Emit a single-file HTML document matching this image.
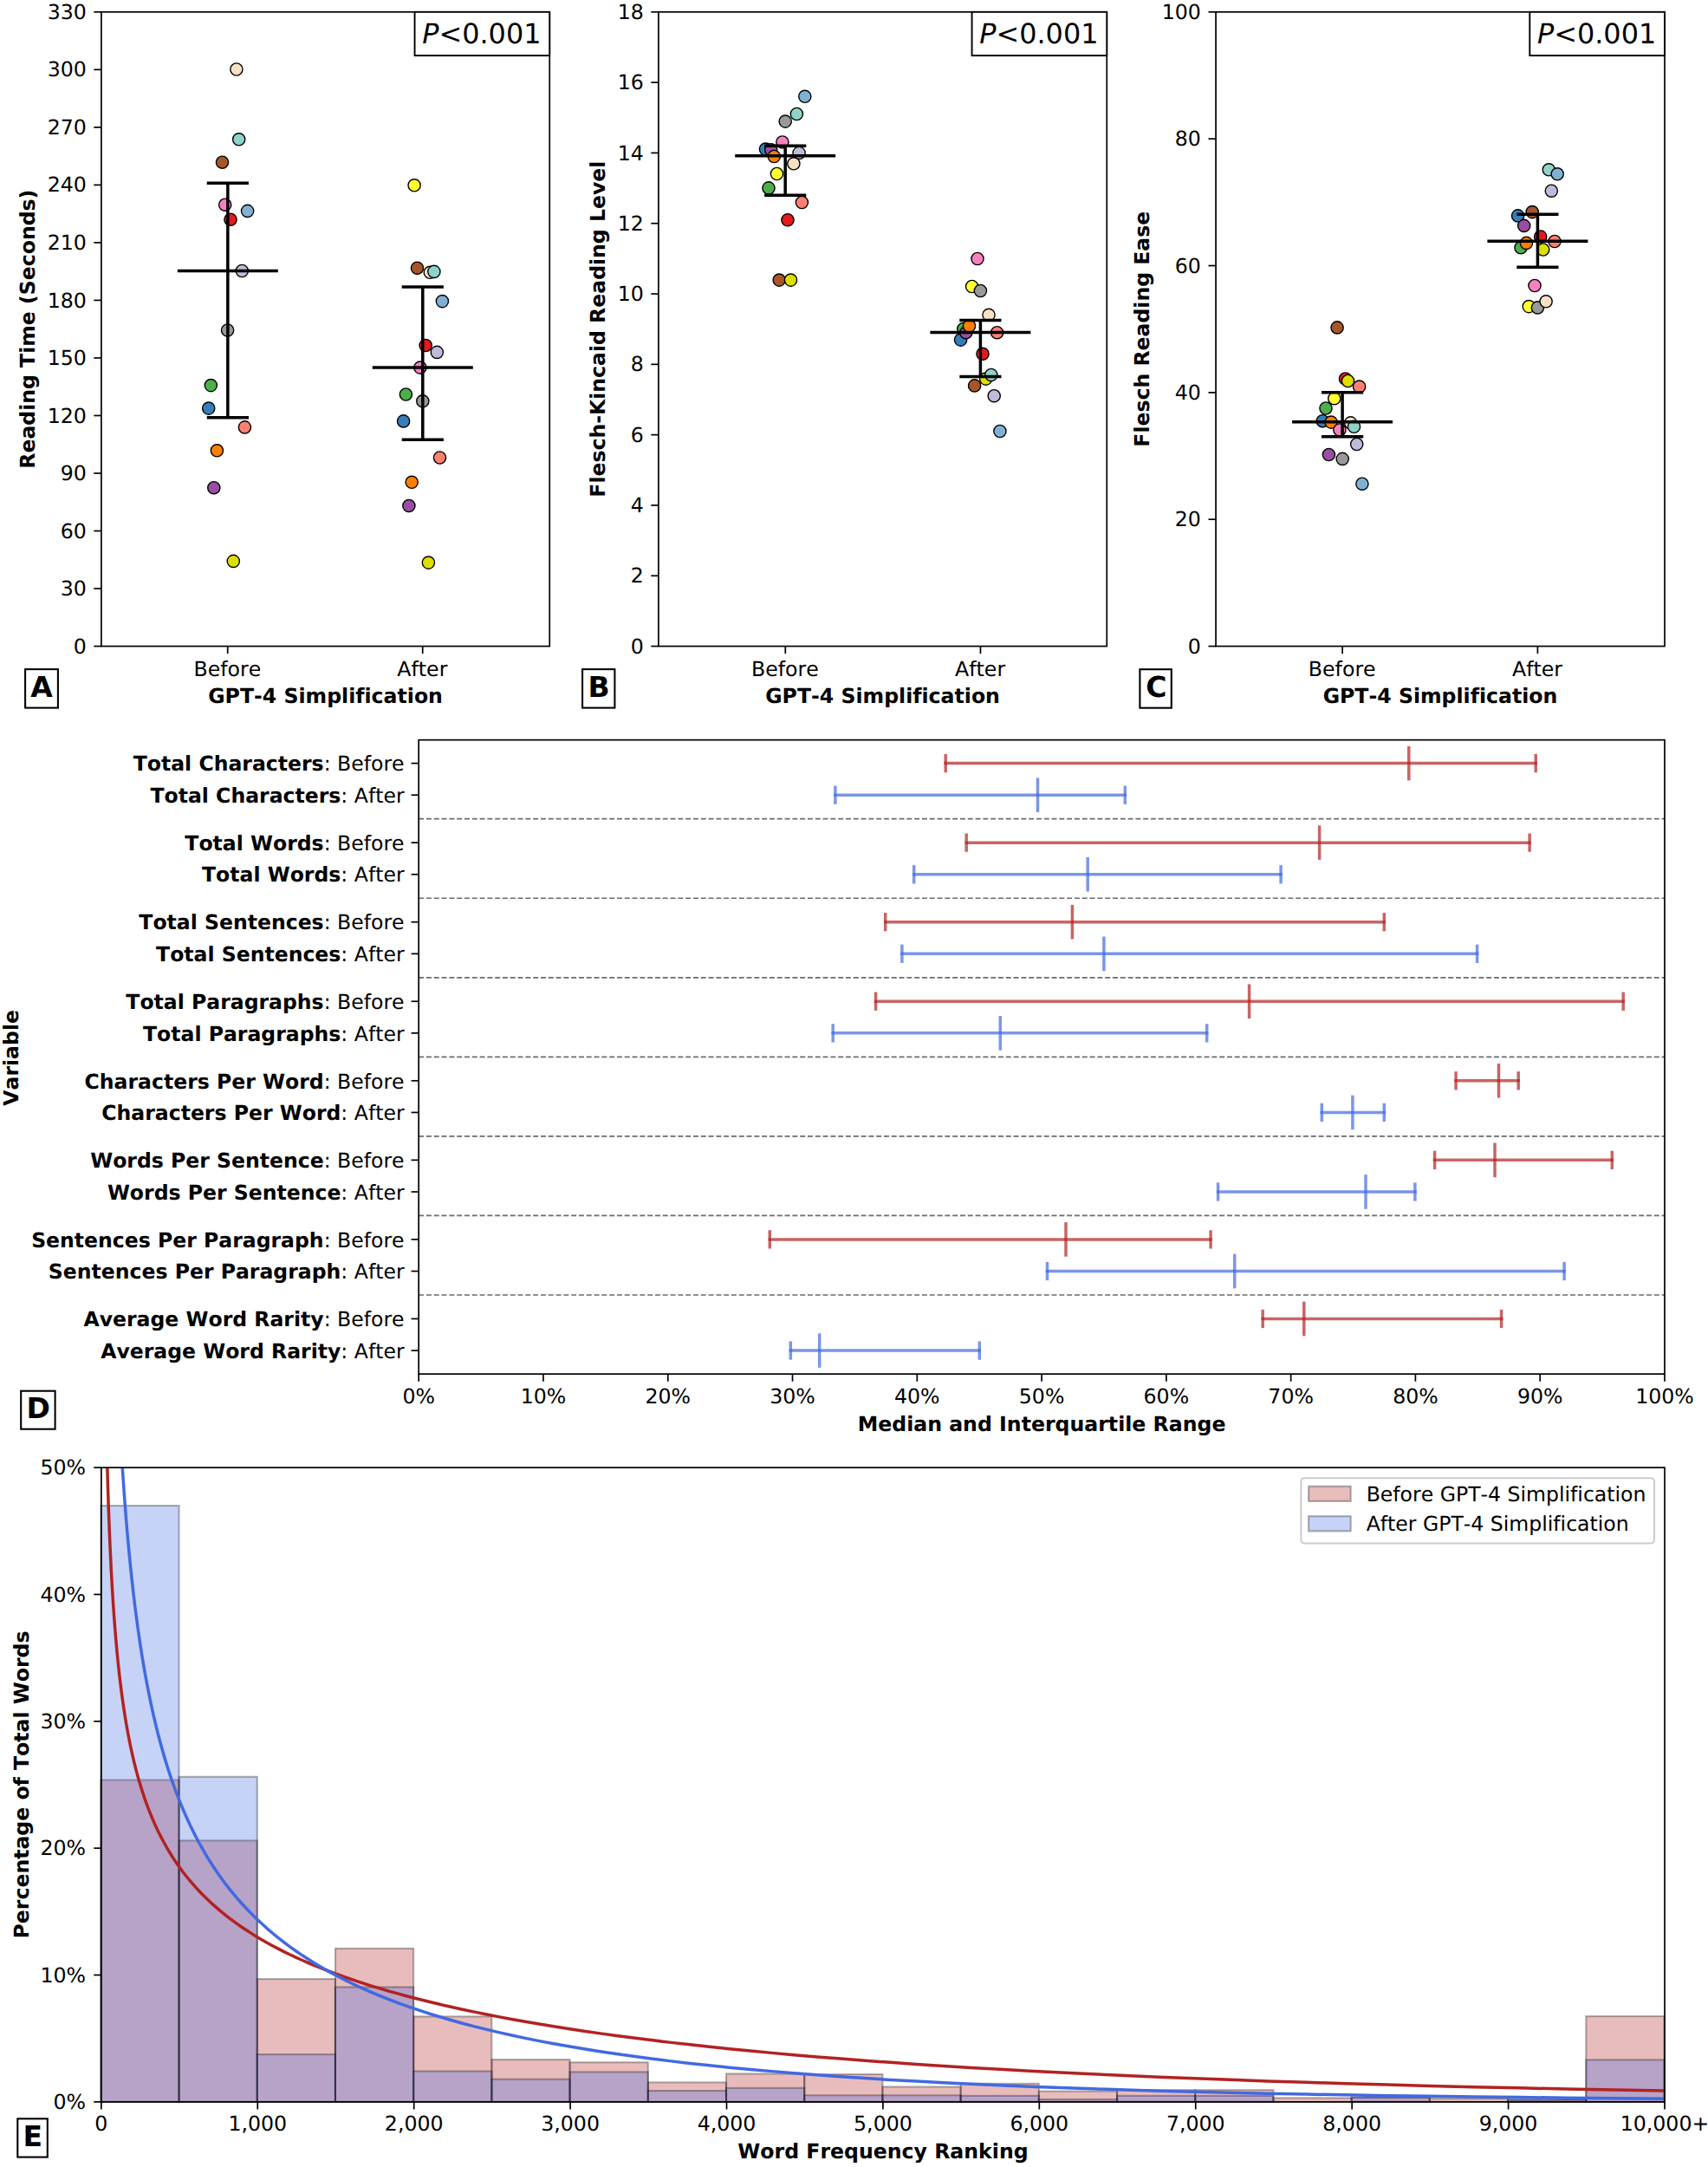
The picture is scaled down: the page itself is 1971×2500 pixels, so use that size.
<!DOCTYPE html><html><head><meta charset="utf-8"><title>Figure</title><style>html,body{margin:0;padding:0;background:#fff}svg{display:block}text{font-family:'DejaVu Sans', 'Liberation Sans', sans-serif;fill:#000;font-variant-ligatures:none;font-kerning:none;text-rendering:geometricPrecision}</style></head><body>
<svg width="1971" height="2500" viewBox="0 0 1971 2500">
<rect width="1971" height="2500" fill="#fff"/>
<g>
<circle cx="266" cy="253.2" r="7.1" fill="#e41a1c" stroke="#000" stroke-width="1.4"/>
<circle cx="491.2" cy="398.5" r="7.1" fill="#e41a1c" stroke="#000" stroke-width="1.4"/>
<circle cx="240.7" cy="471.1" r="7.1" fill="#377eb8" stroke="#000" stroke-width="1.4"/>
<circle cx="465.6" cy="485.9" r="7.1" fill="#377eb8" stroke="#000" stroke-width="1.4"/>
<circle cx="243.3" cy="444.6" r="7.1" fill="#4daf4a" stroke="#000" stroke-width="1.4"/>
<circle cx="468.4" cy="455" r="7.1" fill="#4daf4a" stroke="#000" stroke-width="1.4"/>
<circle cx="246.8" cy="562.7" r="7.1" fill="#984ea3" stroke="#000" stroke-width="1.4"/>
<circle cx="471.9" cy="583.5" r="7.1" fill="#984ea3" stroke="#000" stroke-width="1.4"/>
<circle cx="250.4" cy="519.8" r="7.1" fill="#ff7f00" stroke="#000" stroke-width="1.4"/>
<circle cx="475.2" cy="556.3" r="7.1" fill="#ff7f00" stroke="#000" stroke-width="1.4"/>
<circle cx="478.1" cy="213.8" r="7.1" fill="#ffff33" stroke="#000" stroke-width="1.4"/>
<circle cx="256.5" cy="187.2" r="7.1" fill="#a65628" stroke="#000" stroke-width="1.4"/>
<circle cx="481.5" cy="309.2" r="7.1" fill="#a65628" stroke="#000" stroke-width="1.4"/>
<circle cx="259.7" cy="236.2" r="7.1" fill="#f781bf" stroke="#000" stroke-width="1.4"/>
<circle cx="484.9" cy="424.1" r="7.1" fill="#f781bf" stroke="#000" stroke-width="1.4"/>
<circle cx="262.6" cy="381" r="7.1" fill="#999999" stroke="#000" stroke-width="1.4"/>
<circle cx="487.8" cy="462.8" r="7.1" fill="#999999" stroke="#000" stroke-width="1.4"/>
<circle cx="269.3" cy="647.4" r="7.1" fill="#dede00" stroke="#000" stroke-width="1.4"/>
<circle cx="494.4" cy="649.1" r="7.1" fill="#dede00" stroke="#000" stroke-width="1.4"/>
<circle cx="279.3" cy="312.5" r="7.1" fill="#bebada" stroke="#000" stroke-width="1.4"/>
<circle cx="504.3" cy="406.4" r="7.1" fill="#bebada" stroke="#000" stroke-width="1.4"/>
<circle cx="282.4" cy="492.9" r="7.1" fill="#fb8072" stroke="#000" stroke-width="1.4"/>
<circle cx="507.5" cy="528" r="7.1" fill="#fb8072" stroke="#000" stroke-width="1.4"/>
<circle cx="272.9" cy="80" r="7.1" fill="#f6e1c3" stroke="#000" stroke-width="1.4"/>
<circle cx="496.3" cy="314.3" r="7.1" fill="#f6e1c3" stroke="#000" stroke-width="1.4"/>
<circle cx="275.7" cy="160.8" r="7.1" fill="#8dd3c7" stroke="#000" stroke-width="1.4"/>
<circle cx="500.9" cy="313.4" r="7.1" fill="#8dd3c7" stroke="#000" stroke-width="1.4"/>
<circle cx="285.6" cy="243.4" r="7.1" fill="#80b1d3" stroke="#000" stroke-width="1.4"/>
<circle cx="510.4" cy="347.6" r="7.1" fill="#80b1d3" stroke="#000" stroke-width="1.4"/>
<line x1="262.85" y1="211.3" x2="262.85" y2="481.8" stroke="#000" stroke-width="3.5" />
<line x1="238.75" y1="211.3" x2="286.95" y2="211.3" stroke="#000" stroke-width="3.5" />
<line x1="238.75" y1="481.8" x2="286.95" y2="481.8" stroke="#000" stroke-width="3.5" />
<line x1="204.85" y1="312.5" x2="320.85" y2="312.5" stroke="#000" stroke-width="3.5" />
<line x1="487.8" y1="330.9" x2="487.8" y2="507.3" stroke="#000" stroke-width="3.5" />
<line x1="463.7" y1="330.9" x2="511.9" y2="330.9" stroke="#000" stroke-width="3.5" />
<line x1="463.7" y1="507.3" x2="511.9" y2="507.3" stroke="#000" stroke-width="3.5" />
<line x1="429.8" y1="424.1" x2="545.8" y2="424.1" stroke="#000" stroke-width="3.5" />
<rect x="116.9" y="13.82" width="517.35" height="731.73" fill="none" stroke="#000" stroke-width="1.7"/>
<line x1="108.3" y1="745.55" x2="116.9" y2="745.55" stroke="#000" stroke-width="1.7" />
<text x="99.75" y="753.65" font-size="23.65" text-anchor="end" font-weight="normal" >0</text>
<line x1="108.3" y1="679.03" x2="116.9" y2="679.03" stroke="#000" stroke-width="1.7" />
<text x="99.75" y="687.13" font-size="23.65" text-anchor="end" font-weight="normal" >30</text>
<line x1="108.3" y1="612.51" x2="116.9" y2="612.51" stroke="#000" stroke-width="1.7" />
<text x="99.75" y="620.61" font-size="23.65" text-anchor="end" font-weight="normal" >60</text>
<line x1="108.3" y1="545.99" x2="116.9" y2="545.99" stroke="#000" stroke-width="1.7" />
<text x="99.75" y="554.09" font-size="23.65" text-anchor="end" font-weight="normal" >90</text>
<line x1="108.3" y1="479.47" x2="116.9" y2="479.47" stroke="#000" stroke-width="1.7" />
<text x="99.75" y="487.57" font-size="23.65" text-anchor="end" font-weight="normal" >120</text>
<line x1="108.3" y1="412.95" x2="116.9" y2="412.95" stroke="#000" stroke-width="1.7" />
<text x="99.75" y="421.05" font-size="23.65" text-anchor="end" font-weight="normal" >150</text>
<line x1="108.3" y1="346.42" x2="116.9" y2="346.42" stroke="#000" stroke-width="1.7" />
<text x="99.75" y="354.52" font-size="23.65" text-anchor="end" font-weight="normal" >180</text>
<line x1="108.3" y1="279.9" x2="116.9" y2="279.9" stroke="#000" stroke-width="1.7" />
<text x="99.75" y="288" font-size="23.65" text-anchor="end" font-weight="normal" >210</text>
<line x1="108.3" y1="213.38" x2="116.9" y2="213.38" stroke="#000" stroke-width="1.7" />
<text x="99.75" y="221.48" font-size="23.65" text-anchor="end" font-weight="normal" >240</text>
<line x1="108.3" y1="146.86" x2="116.9" y2="146.86" stroke="#000" stroke-width="1.7" />
<text x="99.75" y="154.96" font-size="23.65" text-anchor="end" font-weight="normal" >270</text>
<line x1="108.3" y1="80.34" x2="116.9" y2="80.34" stroke="#000" stroke-width="1.7" />
<text x="99.75" y="88.44" font-size="23.65" text-anchor="end" font-weight="normal" >300</text>
<line x1="108.3" y1="13.82" x2="116.9" y2="13.82" stroke="#000" stroke-width="1.7" />
<text x="99.75" y="21.92" font-size="23.65" text-anchor="end" font-weight="normal" >330</text>
<line x1="262.72" y1="745.55" x2="262.72" y2="754.15" stroke="#000" stroke-width="1.7" />
<text x="262.37" y="779.85" font-size="23.65" text-anchor="middle" font-weight="normal" >Before</text>
<line x1="487.72" y1="745.55" x2="487.72" y2="754.15" stroke="#000" stroke-width="1.7" />
<text x="487.37" y="779.85" font-size="23.65" text-anchor="middle" font-weight="normal" >After</text>
<text x="375.57" y="810.8" font-size="23.62" text-anchor="middle" font-weight="bold" >GPT-4 Simplification</text>
<text transform="translate(39.9,379.69) rotate(-90)" font-size="23.57" text-anchor="middle" font-weight="bold">Reading Time (Seconds)</text>
<rect x="478.55" y="13.82" width="155.7" height="50.3" fill="#fff" stroke="#000" stroke-width="1.9"/>
<text x="555.85" y="49.65" font-size="31.9" text-anchor="middle" font-weight="normal" ><tspan font-style="italic">P</tspan>&lt;0.001</text>
<rect x="29.1" y="772.1" width="37.8" height="44.5" fill="#fff" stroke="#000" stroke-width="2.08"/>
<text x="35.2" y="803.9" font-size="33" text-anchor="start" font-weight="bold" >A</text>
</g>
<g>
<circle cx="909" cy="253.7" r="7.1" fill="#e41a1c" stroke="#000" stroke-width="1.4"/>
<circle cx="1134" cy="408.3" r="7.1" fill="#e41a1c" stroke="#000" stroke-width="1.4"/>
<circle cx="883.5" cy="172.1" r="7.1" fill="#377eb8" stroke="#000" stroke-width="1.4"/>
<circle cx="1108.6" cy="392.1" r="7.1" fill="#377eb8" stroke="#000" stroke-width="1.4"/>
<circle cx="887" cy="216.9" r="7.1" fill="#4daf4a" stroke="#000" stroke-width="1.4"/>
<circle cx="1111.8" cy="379.5" r="7.1" fill="#4daf4a" stroke="#000" stroke-width="1.4"/>
<circle cx="889.7" cy="172.7" r="7.1" fill="#984ea3" stroke="#000" stroke-width="1.4"/>
<circle cx="1114.8" cy="383.7" r="7.1" fill="#984ea3" stroke="#000" stroke-width="1.4"/>
<circle cx="893.3" cy="180.5" r="7.1" fill="#ff7f00" stroke="#000" stroke-width="1.4"/>
<circle cx="1118.5" cy="376.1" r="7.1" fill="#ff7f00" stroke="#000" stroke-width="1.4"/>
<circle cx="896.5" cy="200.5" r="7.1" fill="#ffff33" stroke="#000" stroke-width="1.4"/>
<circle cx="1121.6" cy="330.5" r="7.1" fill="#ffff33" stroke="#000" stroke-width="1.4"/>
<circle cx="899.2" cy="323.1" r="7.1" fill="#a65628" stroke="#000" stroke-width="1.4"/>
<circle cx="1124.6" cy="444.9" r="7.1" fill="#a65628" stroke="#000" stroke-width="1.4"/>
<circle cx="902.9" cy="164" r="7.1" fill="#f781bf" stroke="#000" stroke-width="1.4"/>
<circle cx="1128" cy="298.5" r="7.1" fill="#f781bf" stroke="#000" stroke-width="1.4"/>
<circle cx="906.2" cy="140.1" r="7.1" fill="#999999" stroke="#000" stroke-width="1.4"/>
<circle cx="1131.4" cy="335.5" r="7.1" fill="#999999" stroke="#000" stroke-width="1.4"/>
<circle cx="912.5" cy="323.1" r="7.1" fill="#dede00" stroke="#000" stroke-width="1.4"/>
<circle cx="1137.6" cy="437.1" r="7.1" fill="#dede00" stroke="#000" stroke-width="1.4"/>
<circle cx="922.1" cy="176.4" r="7.1" fill="#bebada" stroke="#000" stroke-width="1.4"/>
<circle cx="1147.2" cy="456.7" r="7.1" fill="#bebada" stroke="#000" stroke-width="1.4"/>
<circle cx="925.4" cy="233.5" r="7.1" fill="#fb8072" stroke="#000" stroke-width="1.4"/>
<circle cx="1150.6" cy="383.7" r="7.1" fill="#fb8072" stroke="#000" stroke-width="1.4"/>
<circle cx="915.9" cy="188.8" r="7.1" fill="#f6e1c3" stroke="#000" stroke-width="1.4"/>
<circle cx="1141" cy="363.3" r="7.1" fill="#f6e1c3" stroke="#000" stroke-width="1.4"/>
<circle cx="919.4" cy="131.5" r="7.1" fill="#8dd3c7" stroke="#000" stroke-width="1.4"/>
<circle cx="1143.8" cy="432.5" r="7.1" fill="#8dd3c7" stroke="#000" stroke-width="1.4"/>
<circle cx="928.8" cy="111.3" r="7.1" fill="#80b1d3" stroke="#000" stroke-width="1.4"/>
<circle cx="1153.9" cy="497.5" r="7.1" fill="#80b1d3" stroke="#000" stroke-width="1.4"/>
<line x1="906.2" y1="168.2" x2="906.2" y2="225.3" stroke="#000" stroke-width="3.5" />
<line x1="882.1" y1="168.2" x2="930.3" y2="168.2" stroke="#000" stroke-width="3.5" />
<line x1="882.1" y1="225.3" x2="930.3" y2="225.3" stroke="#000" stroke-width="3.5" />
<line x1="848.2" y1="179.8" x2="964.2" y2="179.8" stroke="#000" stroke-width="3.5" />
<line x1="1131.4" y1="369.5" x2="1131.4" y2="434.5" stroke="#000" stroke-width="3.5" />
<line x1="1107.3" y1="369.5" x2="1155.5" y2="369.5" stroke="#000" stroke-width="3.5" />
<line x1="1107.3" y1="434.5" x2="1155.5" y2="434.5" stroke="#000" stroke-width="3.5" />
<line x1="1073.4" y1="383.5" x2="1189.4" y2="383.5" stroke="#000" stroke-width="3.5" />
<rect x="759.9" y="13.82" width="517.37" height="731.73" fill="none" stroke="#000" stroke-width="1.7"/>
<line x1="751.3" y1="745.55" x2="759.9" y2="745.55" stroke="#000" stroke-width="1.7" />
<text x="742.75" y="753.65" font-size="23.65" text-anchor="end" font-weight="normal" >0</text>
<line x1="751.3" y1="664.25" x2="759.9" y2="664.25" stroke="#000" stroke-width="1.7" />
<text x="742.75" y="672.35" font-size="23.65" text-anchor="end" font-weight="normal" >2</text>
<line x1="751.3" y1="582.94" x2="759.9" y2="582.94" stroke="#000" stroke-width="1.7" />
<text x="742.75" y="591.04" font-size="23.65" text-anchor="end" font-weight="normal" >4</text>
<line x1="751.3" y1="501.64" x2="759.9" y2="501.64" stroke="#000" stroke-width="1.7" />
<text x="742.75" y="509.74" font-size="23.65" text-anchor="end" font-weight="normal" >6</text>
<line x1="751.3" y1="420.34" x2="759.9" y2="420.34" stroke="#000" stroke-width="1.7" />
<text x="742.75" y="428.44" font-size="23.65" text-anchor="end" font-weight="normal" >8</text>
<line x1="751.3" y1="339.03" x2="759.9" y2="339.03" stroke="#000" stroke-width="1.7" />
<text x="742.75" y="347.13" font-size="23.65" text-anchor="end" font-weight="normal" >10</text>
<line x1="751.3" y1="257.73" x2="759.9" y2="257.73" stroke="#000" stroke-width="1.7" />
<text x="742.75" y="265.83" font-size="23.65" text-anchor="end" font-weight="normal" >12</text>
<line x1="751.3" y1="176.43" x2="759.9" y2="176.43" stroke="#000" stroke-width="1.7" />
<text x="742.75" y="184.53" font-size="23.65" text-anchor="end" font-weight="normal" >14</text>
<line x1="751.3" y1="95.12" x2="759.9" y2="95.12" stroke="#000" stroke-width="1.7" />
<text x="742.75" y="103.22" font-size="23.65" text-anchor="end" font-weight="normal" >16</text>
<line x1="751.3" y1="13.82" x2="759.9" y2="13.82" stroke="#000" stroke-width="1.7" />
<text x="742.75" y="21.92" font-size="23.65" text-anchor="end" font-weight="normal" >18</text>
<line x1="906.3" y1="745.55" x2="906.3" y2="754.15" stroke="#000" stroke-width="1.7" />
<text x="905.95" y="779.85" font-size="23.65" text-anchor="middle" font-weight="normal" >Before</text>
<line x1="1131.47" y1="745.55" x2="1131.47" y2="754.15" stroke="#000" stroke-width="1.7" />
<text x="1131.12" y="779.85" font-size="23.65" text-anchor="middle" font-weight="normal" >After</text>
<text x="1018.59" y="810.8" font-size="23.62" text-anchor="middle" font-weight="bold" >GPT-4 Simplification</text>
<text transform="translate(697.9,379.69) rotate(-90)" font-size="23.57" text-anchor="middle" font-weight="bold">Flesch-Kincaid Reading Level</text>
<rect x="1121.57" y="13.82" width="155.7" height="50.3" fill="#fff" stroke="#000" stroke-width="1.9"/>
<text x="1198.87" y="49.65" font-size="31.9" text-anchor="middle" font-weight="normal" ><tspan font-style="italic">P</tspan>&lt;0.001</text>
<rect x="672.1" y="772.1" width="37.3" height="44.5" fill="#fff" stroke="#000" stroke-width="2.08"/>
<text x="678.6" y="803.9" font-size="33" text-anchor="start" font-weight="bold" >B</text>
</g>
<g>
<circle cx="1552.5" cy="437" r="7.1" fill="#e41a1c" stroke="#000" stroke-width="1.4"/>
<circle cx="1777.7" cy="273" r="7.1" fill="#e41a1c" stroke="#000" stroke-width="1.4"/>
<circle cx="1526.3" cy="485.7" r="7.1" fill="#377eb8" stroke="#000" stroke-width="1.4"/>
<circle cx="1751.6" cy="248.9" r="7.1" fill="#377eb8" stroke="#000" stroke-width="1.4"/>
<circle cx="1530" cy="471" r="7.1" fill="#4daf4a" stroke="#000" stroke-width="1.4"/>
<circle cx="1755" cy="285.7" r="7.1" fill="#4daf4a" stroke="#000" stroke-width="1.4"/>
<circle cx="1533.4" cy="524.5" r="7.1" fill="#984ea3" stroke="#000" stroke-width="1.4"/>
<circle cx="1758.7" cy="260.4" r="7.1" fill="#984ea3" stroke="#000" stroke-width="1.4"/>
<circle cx="1536.1" cy="487.1" r="7.1" fill="#ff7f00" stroke="#000" stroke-width="1.4"/>
<circle cx="1761.4" cy="280.4" r="7.1" fill="#ff7f00" stroke="#000" stroke-width="1.4"/>
<circle cx="1539.8" cy="459.7" r="7.1" fill="#ffff33" stroke="#000" stroke-width="1.4"/>
<circle cx="1764.3" cy="353.6" r="7.1" fill="#ffff33" stroke="#000" stroke-width="1.4"/>
<circle cx="1543.1" cy="377.9" r="7.1" fill="#a65628" stroke="#000" stroke-width="1.4"/>
<circle cx="1768.2" cy="244.6" r="7.1" fill="#a65628" stroke="#000" stroke-width="1.4"/>
<circle cx="1545.9" cy="496" r="7.1" fill="#f781bf" stroke="#000" stroke-width="1.4"/>
<circle cx="1771" cy="329.5" r="7.1" fill="#f781bf" stroke="#000" stroke-width="1.4"/>
<circle cx="1549.2" cy="529.4" r="7.1" fill="#999999" stroke="#000" stroke-width="1.4"/>
<circle cx="1774.4" cy="354.9" r="7.1" fill="#999999" stroke="#000" stroke-width="1.4"/>
<circle cx="1555.5" cy="439.5" r="7.1" fill="#dede00" stroke="#000" stroke-width="1.4"/>
<circle cx="1780.7" cy="288" r="7.1" fill="#dede00" stroke="#000" stroke-width="1.4"/>
<circle cx="1565.7" cy="512.5" r="7.1" fill="#bebada" stroke="#000" stroke-width="1.4"/>
<circle cx="1790.3" cy="220.2" r="7.1" fill="#bebada" stroke="#000" stroke-width="1.4"/>
<circle cx="1568.6" cy="446.1" r="7.1" fill="#fb8072" stroke="#000" stroke-width="1.4"/>
<circle cx="1794" cy="278.5" r="7.1" fill="#fb8072" stroke="#000" stroke-width="1.4"/>
<circle cx="1558.6" cy="487.9" r="7.1" fill="#f6e1c3" stroke="#000" stroke-width="1.4"/>
<circle cx="1784.1" cy="347.8" r="7.1" fill="#f6e1c3" stroke="#000" stroke-width="1.4"/>
<circle cx="1562.5" cy="492.3" r="7.1" fill="#8dd3c7" stroke="#000" stroke-width="1.4"/>
<circle cx="1787.3" cy="195.8" r="7.1" fill="#8dd3c7" stroke="#000" stroke-width="1.4"/>
<circle cx="1571.9" cy="558.2" r="7.1" fill="#80b1d3" stroke="#000" stroke-width="1.4"/>
<circle cx="1797.2" cy="200.8" r="7.1" fill="#80b1d3" stroke="#000" stroke-width="1.4"/>
<line x1="1549.1" y1="452.8" x2="1549.1" y2="503.7" stroke="#000" stroke-width="3.5" />
<line x1="1525" y1="452.8" x2="1573.2" y2="452.8" stroke="#000" stroke-width="3.5" />
<line x1="1525" y1="503.7" x2="1573.2" y2="503.7" stroke="#000" stroke-width="3.5" />
<line x1="1491.1" y1="486.8" x2="1607.1" y2="486.8" stroke="#000" stroke-width="3.5" />
<line x1="1774.4" y1="247.2" x2="1774.4" y2="308.2" stroke="#000" stroke-width="3.5" />
<line x1="1750.3" y1="247.2" x2="1798.5" y2="247.2" stroke="#000" stroke-width="3.5" />
<line x1="1750.3" y1="308.2" x2="1798.5" y2="308.2" stroke="#000" stroke-width="3.5" />
<line x1="1716.4" y1="278.3" x2="1832.4" y2="278.3" stroke="#000" stroke-width="3.5" />
<rect x="1403.06" y="13.82" width="517.94" height="731.73" fill="none" stroke="#000" stroke-width="1.7"/>
<line x1="1394.46" y1="745.55" x2="1403.06" y2="745.55" stroke="#000" stroke-width="1.7" />
<text x="1385.91" y="753.65" font-size="23.65" text-anchor="end" font-weight="normal" >0</text>
<line x1="1394.46" y1="599.2" x2="1403.06" y2="599.2" stroke="#000" stroke-width="1.7" />
<text x="1385.91" y="607.3" font-size="23.65" text-anchor="end" font-weight="normal" >20</text>
<line x1="1394.46" y1="452.86" x2="1403.06" y2="452.86" stroke="#000" stroke-width="1.7" />
<text x="1385.91" y="460.96" font-size="23.65" text-anchor="end" font-weight="normal" >40</text>
<line x1="1394.46" y1="306.51" x2="1403.06" y2="306.51" stroke="#000" stroke-width="1.7" />
<text x="1385.91" y="314.61" font-size="23.65" text-anchor="end" font-weight="normal" >60</text>
<line x1="1394.46" y1="160.17" x2="1403.06" y2="160.17" stroke="#000" stroke-width="1.7" />
<text x="1385.91" y="168.27" font-size="23.65" text-anchor="end" font-weight="normal" >80</text>
<line x1="1394.46" y1="13.82" x2="1403.06" y2="13.82" stroke="#000" stroke-width="1.7" />
<text x="1385.91" y="21.92" font-size="23.65" text-anchor="end" font-weight="normal" >100</text>
<line x1="1549.1" y1="745.55" x2="1549.1" y2="754.15" stroke="#000" stroke-width="1.7" />
<text x="1548.75" y="779.85" font-size="23.65" text-anchor="middle" font-weight="normal" >Before</text>
<line x1="1774.4" y1="745.55" x2="1774.4" y2="754.15" stroke="#000" stroke-width="1.7" />
<text x="1774.05" y="779.85" font-size="23.65" text-anchor="middle" font-weight="normal" >After</text>
<text x="1662.03" y="810.8" font-size="23.62" text-anchor="middle" font-weight="bold" >GPT-4 Simplification</text>
<text transform="translate(1326.2,379.69) rotate(-90)" font-size="23.57" text-anchor="middle" font-weight="bold">Flesch Reading Ease</text>
<rect x="1765.3" y="13.82" width="155.7" height="50.3" fill="#fff" stroke="#000" stroke-width="1.9"/>
<text x="1842.6" y="49.65" font-size="31.9" text-anchor="middle" font-weight="normal" ><tspan font-style="italic">P</tspan>&lt;0.001</text>
<rect x="1315.4" y="772.2" width="36.4" height="44.5" fill="#fff" stroke="#000" stroke-width="2.08"/>
<text x="1322.3" y="803.7" font-size="33" text-anchor="start" font-weight="bold" >C</text>
</g>
<g>
<g stroke="rgb(178,34,34)" stroke-width="3.5" stroke-opacity="0.7">
<line x1="1091.2" y1="880.6" x2="1772.2" y2="880.6" stroke-linecap="square"/>
<line x1="1091.2" y1="869.95" x2="1091.2" y2="891.25"/>
<line x1="1772.2" y1="869.95" x2="1772.2" y2="891.25"/>
<line x1="1625.8" y1="860.8" x2="1625.8" y2="900.4"/>
</g>
<line x1="474.59" y1="880.6" x2="483.19" y2="880.6" stroke="#000" stroke-width="1.7" />
<text x="466.59" y="889.3" font-size="23.55" text-anchor="end" font-weight="normal" ><tspan font-weight="bold">Total Characters</tspan>: Before</text>
<g stroke="rgb(65,105,225)" stroke-width="3.5" stroke-opacity="0.7">
<line x1="963.9" y1="917.22" x2="1298.3" y2="917.22" stroke-linecap="square"/>
<line x1="963.9" y1="906.57" x2="963.9" y2="927.87"/>
<line x1="1298.3" y1="906.57" x2="1298.3" y2="927.87"/>
<line x1="1197.5" y1="897.42" x2="1197.5" y2="937.02"/>
</g>
<line x1="474.59" y1="917.22" x2="483.19" y2="917.22" stroke="#000" stroke-width="1.7" />
<text x="466.59" y="925.92" font-size="23.55" text-anchor="end" font-weight="normal" ><tspan font-weight="bold">Total Characters</tspan>: After</text>
<line x1="483.19" y1="944.69" x2="1920.97" y2="944.69" stroke="#6b6b6b" stroke-width="1.67" stroke-dasharray="5.95 2.85"/>
<g stroke="rgb(178,34,34)" stroke-width="3.5" stroke-opacity="0.7">
<line x1="1115.2" y1="972.15" x2="1765.1" y2="972.15" stroke-linecap="square"/>
<line x1="1115.2" y1="961.5" x2="1115.2" y2="982.8"/>
<line x1="1765.1" y1="961.5" x2="1765.1" y2="982.8"/>
<line x1="1522.6" y1="952.35" x2="1522.6" y2="991.95"/>
</g>
<line x1="474.59" y1="972.15" x2="483.19" y2="972.15" stroke="#000" stroke-width="1.7" />
<text x="466.59" y="980.85" font-size="23.55" text-anchor="end" font-weight="normal" ><tspan font-weight="bold">Total Words</tspan>: Before</text>
<g stroke="rgb(65,105,225)" stroke-width="3.5" stroke-opacity="0.7">
<line x1="1054.7" y1="1008.77" x2="1478.1" y2="1008.77" stroke-linecap="square"/>
<line x1="1054.7" y1="998.12" x2="1054.7" y2="1019.42"/>
<line x1="1478.1" y1="998.12" x2="1478.1" y2="1019.42"/>
<line x1="1255.2" y1="988.97" x2="1255.2" y2="1028.57"/>
</g>
<line x1="474.59" y1="1008.77" x2="483.19" y2="1008.77" stroke="#000" stroke-width="1.7" />
<text x="466.59" y="1017.47" font-size="23.55" text-anchor="end" font-weight="normal" ><tspan font-weight="bold">Total Words</tspan>: After</text>
<line x1="483.19" y1="1036.24" x2="1920.97" y2="1036.24" stroke="#6b6b6b" stroke-width="1.67" stroke-dasharray="5.95 2.85"/>
<g stroke="rgb(178,34,34)" stroke-width="3.5" stroke-opacity="0.7">
<line x1="1021.7" y1="1063.7" x2="1597.3" y2="1063.7" stroke-linecap="square"/>
<line x1="1021.7" y1="1053.05" x2="1021.7" y2="1074.35"/>
<line x1="1597.3" y1="1053.05" x2="1597.3" y2="1074.35"/>
<line x1="1237.4" y1="1043.9" x2="1237.4" y2="1083.5"/>
</g>
<line x1="474.59" y1="1063.7" x2="483.19" y2="1063.7" stroke="#000" stroke-width="1.7" />
<text x="466.59" y="1072.4" font-size="23.55" text-anchor="end" font-weight="normal" ><tspan font-weight="bold">Total Sentences</tspan>: Before</text>
<g stroke="rgb(65,105,225)" stroke-width="3.5" stroke-opacity="0.7">
<line x1="1040.9" y1="1100.32" x2="1704.6" y2="1100.32" stroke-linecap="square"/>
<line x1="1040.9" y1="1089.67" x2="1040.9" y2="1110.97"/>
<line x1="1704.6" y1="1089.67" x2="1704.6" y2="1110.97"/>
<line x1="1273.9" y1="1080.52" x2="1273.9" y2="1120.12"/>
</g>
<line x1="474.59" y1="1100.32" x2="483.19" y2="1100.32" stroke="#000" stroke-width="1.7" />
<text x="466.59" y="1109.02" font-size="23.55" text-anchor="end" font-weight="normal" ><tspan font-weight="bold">Total Sentences</tspan>: After</text>
<line x1="483.19" y1="1127.79" x2="1920.97" y2="1127.79" stroke="#6b6b6b" stroke-width="1.67" stroke-dasharray="5.95 2.85"/>
<g stroke="rgb(178,34,34)" stroke-width="3.5" stroke-opacity="0.7">
<line x1="1010.6" y1="1155.25" x2="1873.2" y2="1155.25" stroke-linecap="square"/>
<line x1="1010.6" y1="1144.6" x2="1010.6" y2="1165.9"/>
<line x1="1873.2" y1="1144.6" x2="1873.2" y2="1165.9"/>
<line x1="1441.6" y1="1135.45" x2="1441.6" y2="1175.05"/>
</g>
<line x1="474.59" y1="1155.25" x2="483.19" y2="1155.25" stroke="#000" stroke-width="1.7" />
<text x="466.59" y="1163.95" font-size="23.55" text-anchor="end" font-weight="normal" ><tspan font-weight="bold">Total Paragraphs</tspan>: Before</text>
<g stroke="rgb(65,105,225)" stroke-width="3.5" stroke-opacity="0.7">
<line x1="961.2" y1="1191.87" x2="1392.7" y2="1191.87" stroke-linecap="square"/>
<line x1="961.2" y1="1181.22" x2="961.2" y2="1202.52"/>
<line x1="1392.7" y1="1181.22" x2="1392.7" y2="1202.52"/>
<line x1="1154.3" y1="1172.07" x2="1154.3" y2="1211.67"/>
</g>
<line x1="474.59" y1="1191.87" x2="483.19" y2="1191.87" stroke="#000" stroke-width="1.7" />
<text x="466.59" y="1200.57" font-size="23.55" text-anchor="end" font-weight="normal" ><tspan font-weight="bold">Total Paragraphs</tspan>: After</text>
<line x1="483.19" y1="1219.34" x2="1920.97" y2="1219.34" stroke="#6b6b6b" stroke-width="1.67" stroke-dasharray="5.95 2.85"/>
<g stroke="rgb(178,34,34)" stroke-width="3.5" stroke-opacity="0.7">
<line x1="1680.1" y1="1246.8" x2="1752.2" y2="1246.8" stroke-linecap="square"/>
<line x1="1680.1" y1="1236.15" x2="1680.1" y2="1257.45"/>
<line x1="1752.2" y1="1236.15" x2="1752.2" y2="1257.45"/>
<line x1="1729.5" y1="1227" x2="1729.5" y2="1266.6"/>
</g>
<line x1="474.59" y1="1246.8" x2="483.19" y2="1246.8" stroke="#000" stroke-width="1.7" />
<text x="466.59" y="1255.5" font-size="23.55" text-anchor="end" font-weight="normal" ><tspan font-weight="bold">Characters Per Word</tspan>: Before</text>
<g stroke="rgb(65,105,225)" stroke-width="3.5" stroke-opacity="0.7">
<line x1="1525.3" y1="1283.42" x2="1597.3" y2="1283.42" stroke-linecap="square"/>
<line x1="1525.3" y1="1272.77" x2="1525.3" y2="1294.07"/>
<line x1="1597.3" y1="1272.77" x2="1597.3" y2="1294.07"/>
<line x1="1560.9" y1="1263.62" x2="1560.9" y2="1303.22"/>
</g>
<line x1="474.59" y1="1283.42" x2="483.19" y2="1283.42" stroke="#000" stroke-width="1.7" />
<text x="466.59" y="1292.12" font-size="23.55" text-anchor="end" font-weight="normal" ><tspan font-weight="bold">Characters Per Word</tspan>: After</text>
<line x1="483.19" y1="1310.88" x2="1920.97" y2="1310.88" stroke="#6b6b6b" stroke-width="1.67" stroke-dasharray="5.95 2.85"/>
<g stroke="rgb(178,34,34)" stroke-width="3.5" stroke-opacity="0.7">
<line x1="1655.6" y1="1338.35" x2="1860.3" y2="1338.35" stroke-linecap="square"/>
<line x1="1655.6" y1="1327.7" x2="1655.6" y2="1349"/>
<line x1="1860.3" y1="1327.7" x2="1860.3" y2="1349"/>
<line x1="1725" y1="1318.55" x2="1725" y2="1358.15"/>
</g>
<line x1="474.59" y1="1338.35" x2="483.19" y2="1338.35" stroke="#000" stroke-width="1.7" />
<text x="466.59" y="1347.05" font-size="23.55" text-anchor="end" font-weight="normal" ><tspan font-weight="bold">Words Per Sentence</tspan>: Before</text>
<g stroke="rgb(65,105,225)" stroke-width="3.5" stroke-opacity="0.7">
<line x1="1405.6" y1="1374.97" x2="1632.9" y2="1374.97" stroke-linecap="square"/>
<line x1="1405.6" y1="1364.32" x2="1405.6" y2="1385.62"/>
<line x1="1632.9" y1="1364.32" x2="1632.9" y2="1385.62"/>
<line x1="1576" y1="1355.17" x2="1576" y2="1394.77"/>
</g>
<line x1="474.59" y1="1374.97" x2="483.19" y2="1374.97" stroke="#000" stroke-width="1.7" />
<text x="466.59" y="1383.67" font-size="23.55" text-anchor="end" font-weight="normal" ><tspan font-weight="bold">Words Per Sentence</tspan>: After</text>
<line x1="483.19" y1="1402.43" x2="1920.97" y2="1402.43" stroke="#6b6b6b" stroke-width="1.67" stroke-dasharray="5.95 2.85"/>
<g stroke="rgb(178,34,34)" stroke-width="3.5" stroke-opacity="0.7">
<line x1="888.3" y1="1429.9" x2="1397.1" y2="1429.9" stroke-linecap="square"/>
<line x1="888.3" y1="1419.25" x2="888.3" y2="1440.55"/>
<line x1="1397.1" y1="1419.25" x2="1397.1" y2="1440.55"/>
<line x1="1230" y1="1410.1" x2="1230" y2="1449.7"/>
</g>
<line x1="474.59" y1="1429.9" x2="483.19" y2="1429.9" stroke="#000" stroke-width="1.7" />
<text x="466.59" y="1438.6" font-size="23.55" text-anchor="end" font-weight="normal" ><tspan font-weight="bold">Sentences Per Paragraph</tspan>: Before</text>
<g stroke="rgb(65,105,225)" stroke-width="3.5" stroke-opacity="0.7">
<line x1="1208.5" y1="1466.52" x2="1805.1" y2="1466.52" stroke-linecap="square"/>
<line x1="1208.5" y1="1455.87" x2="1208.5" y2="1477.17"/>
<line x1="1805.1" y1="1455.87" x2="1805.1" y2="1477.17"/>
<line x1="1424.7" y1="1446.72" x2="1424.7" y2="1486.32"/>
</g>
<line x1="474.59" y1="1466.52" x2="483.19" y2="1466.52" stroke="#000" stroke-width="1.7" />
<text x="466.59" y="1475.22" font-size="23.55" text-anchor="end" font-weight="normal" ><tspan font-weight="bold">Sentences Per Paragraph</tspan>: After</text>
<line x1="483.19" y1="1493.99" x2="1920.97" y2="1493.99" stroke="#6b6b6b" stroke-width="1.67" stroke-dasharray="5.95 2.85"/>
<g stroke="rgb(178,34,34)" stroke-width="3.5" stroke-opacity="0.7">
<line x1="1457.2" y1="1521.45" x2="1732.6" y2="1521.45" stroke-linecap="square"/>
<line x1="1457.2" y1="1510.8" x2="1457.2" y2="1532.1"/>
<line x1="1732.6" y1="1510.8" x2="1732.6" y2="1532.1"/>
<line x1="1504.8" y1="1501.65" x2="1504.8" y2="1541.25"/>
</g>
<line x1="474.59" y1="1521.45" x2="483.19" y2="1521.45" stroke="#000" stroke-width="1.7" />
<text x="466.59" y="1530.15" font-size="23.55" text-anchor="end" font-weight="normal" ><tspan font-weight="bold">Average Word Rarity</tspan>: Before</text>
<g stroke="rgb(65,105,225)" stroke-width="3.5" stroke-opacity="0.7">
<line x1="912.3" y1="1558.07" x2="1130.3" y2="1558.07" stroke-linecap="square"/>
<line x1="912.3" y1="1547.42" x2="912.3" y2="1568.72"/>
<line x1="1130.3" y1="1547.42" x2="1130.3" y2="1568.72"/>
<line x1="945.7" y1="1538.27" x2="945.7" y2="1577.87"/>
</g>
<line x1="474.59" y1="1558.07" x2="483.19" y2="1558.07" stroke="#000" stroke-width="1.7" />
<text x="466.59" y="1566.77" font-size="23.55" text-anchor="end" font-weight="normal" ><tspan font-weight="bold">Average Word Rarity</tspan>: After</text>
<rect x="483.19" y="853.64" width="1437.78" height="731.51" fill="none" stroke="#000" stroke-width="1.7"/>
<line x1="483.19" y1="1585.15" x2="483.19" y2="1593.75" stroke="#000" stroke-width="1.7" />
<text x="483.19" y="1619.1" font-size="23.65" text-anchor="middle" font-weight="normal" >0%</text>
<line x1="626.97" y1="1585.15" x2="626.97" y2="1593.75" stroke="#000" stroke-width="1.7" />
<text x="626.97" y="1619.1" font-size="23.65" text-anchor="middle" font-weight="normal" >10%</text>
<line x1="770.75" y1="1585.15" x2="770.75" y2="1593.75" stroke="#000" stroke-width="1.7" />
<text x="770.75" y="1619.1" font-size="23.65" text-anchor="middle" font-weight="normal" >20%</text>
<line x1="914.52" y1="1585.15" x2="914.52" y2="1593.75" stroke="#000" stroke-width="1.7" />
<text x="914.52" y="1619.1" font-size="23.65" text-anchor="middle" font-weight="normal" >30%</text>
<line x1="1058.3" y1="1585.15" x2="1058.3" y2="1593.75" stroke="#000" stroke-width="1.7" />
<text x="1058.3" y="1619.1" font-size="23.65" text-anchor="middle" font-weight="normal" >40%</text>
<line x1="1202.08" y1="1585.15" x2="1202.08" y2="1593.75" stroke="#000" stroke-width="1.7" />
<text x="1202.08" y="1619.1" font-size="23.65" text-anchor="middle" font-weight="normal" >50%</text>
<line x1="1345.86" y1="1585.15" x2="1345.86" y2="1593.75" stroke="#000" stroke-width="1.7" />
<text x="1345.86" y="1619.1" font-size="23.65" text-anchor="middle" font-weight="normal" >60%</text>
<line x1="1489.64" y1="1585.15" x2="1489.64" y2="1593.75" stroke="#000" stroke-width="1.7" />
<text x="1489.64" y="1619.1" font-size="23.65" text-anchor="middle" font-weight="normal" >70%</text>
<line x1="1633.41" y1="1585.15" x2="1633.41" y2="1593.75" stroke="#000" stroke-width="1.7" />
<text x="1633.41" y="1619.1" font-size="23.65" text-anchor="middle" font-weight="normal" >80%</text>
<line x1="1777.19" y1="1585.15" x2="1777.19" y2="1593.75" stroke="#000" stroke-width="1.7" />
<text x="1777.19" y="1619.1" font-size="23.65" text-anchor="middle" font-weight="normal" >90%</text>
<line x1="1920.97" y1="1585.15" x2="1920.97" y2="1593.75" stroke="#000" stroke-width="1.7" />
<text x="1920.97" y="1619.1" font-size="23.65" text-anchor="middle" font-weight="normal" >100%</text>
<text x="1202.08" y="1651.1" font-size="23.62" text-anchor="middle" font-weight="bold" >Median and Interquartile Range</text>
<text transform="translate(21,1220.39) rotate(-90)" font-size="23.57" text-anchor="middle" font-weight="bold">Variable</text>
<rect x="24.2" y="1604.7" width="39.4" height="44" fill="#fff" stroke="#000" stroke-width="2.08"/>
<text x="30.45" y="1635.8" font-size="33" text-anchor="start" font-weight="bold" >D</text>
</g>
<g>
<clipPath id="ce"><rect x="116.86" y="1693.1" width="1804.14" height="731.8"/></clipPath>
<rect x="116.36" y="2053.48" width="90.21" height="371.42" fill="rgb(178,34,34)" fill-opacity="0.3" stroke="#000" stroke-opacity="0.3" stroke-width="2.08"/>
<rect x="206.57" y="2123.35" width="90.21" height="301.55" fill="rgb(178,34,34)" fill-opacity="0.3" stroke="#000" stroke-opacity="0.3" stroke-width="2.08"/>
<rect x="296.77" y="2283.1" width="90.21" height="141.8" fill="rgb(178,34,34)" fill-opacity="0.3" stroke="#000" stroke-opacity="0.3" stroke-width="2.08"/>
<rect x="386.98" y="2247.88" width="90.21" height="177.02" fill="rgb(178,34,34)" fill-opacity="0.3" stroke="#000" stroke-opacity="0.3" stroke-width="2.08"/>
<rect x="477.19" y="2326.37" width="90.21" height="98.53" fill="rgb(178,34,34)" fill-opacity="0.3" stroke="#000" stroke-opacity="0.3" stroke-width="2.08"/>
<rect x="567.39" y="2376.06" width="90.21" height="48.84" fill="rgb(178,34,34)" fill-opacity="0.3" stroke="#000" stroke-opacity="0.3" stroke-width="2.08"/>
<rect x="657.6" y="2379.28" width="90.21" height="45.62" fill="rgb(178,34,34)" fill-opacity="0.3" stroke="#000" stroke-opacity="0.3" stroke-width="2.08"/>
<rect x="747.81" y="2402.37" width="90.21" height="22.53" fill="rgb(178,34,34)" fill-opacity="0.3" stroke="#000" stroke-opacity="0.3" stroke-width="2.08"/>
<rect x="838.02" y="2392.43" width="90.21" height="32.47" fill="rgb(178,34,34)" fill-opacity="0.3" stroke="#000" stroke-opacity="0.3" stroke-width="2.08"/>
<rect x="928.22" y="2393.01" width="90.21" height="31.89" fill="rgb(178,34,34)" fill-opacity="0.3" stroke="#000" stroke-opacity="0.3" stroke-width="2.08"/>
<rect x="1018.43" y="2407.48" width="90.21" height="17.42" fill="rgb(178,34,34)" fill-opacity="0.3" stroke="#000" stroke-opacity="0.3" stroke-width="2.08"/>
<rect x="1108.64" y="2403.83" width="90.21" height="21.07" fill="rgb(178,34,34)" fill-opacity="0.3" stroke="#000" stroke-opacity="0.3" stroke-width="2.08"/>
<rect x="1198.84" y="2412.6" width="90.21" height="12.3" fill="rgb(178,34,34)" fill-opacity="0.3" stroke="#000" stroke-opacity="0.3" stroke-width="2.08"/>
<rect x="1289.05" y="2411.14" width="90.21" height="13.76" fill="rgb(178,34,34)" fill-opacity="0.3" stroke="#000" stroke-opacity="0.3" stroke-width="2.08"/>
<rect x="1379.26" y="2411.14" width="90.21" height="13.76" fill="rgb(178,34,34)" fill-opacity="0.3" stroke="#000" stroke-opacity="0.3" stroke-width="2.08"/>
<rect x="1469.46" y="2420.35" width="90.21" height="4.55" fill="rgb(178,34,34)" fill-opacity="0.3" stroke="#000" stroke-opacity="0.3" stroke-width="2.08"/>
<rect x="1559.67" y="2419.91" width="90.21" height="4.99" fill="rgb(178,34,34)" fill-opacity="0.3" stroke="#000" stroke-opacity="0.3" stroke-width="2.08"/>
<rect x="1649.88" y="2421.08" width="90.21" height="3.82" fill="rgb(178,34,34)" fill-opacity="0.3" stroke="#000" stroke-opacity="0.3" stroke-width="2.08"/>
<rect x="1740.09" y="2422.25" width="90.21" height="2.65" fill="rgb(178,34,34)" fill-opacity="0.3" stroke="#000" stroke-opacity="0.3" stroke-width="2.08"/>
<rect x="1830.29" y="2326.07" width="90.21" height="98.83" fill="rgb(178,34,34)" fill-opacity="0.3" stroke="#000" stroke-opacity="0.3" stroke-width="2.08"/>
<rect x="116.36" y="1737.05" width="90.21" height="687.85" fill="rgb(65,105,225)" fill-opacity="0.3" stroke="#000" stroke-opacity="0.3" stroke-width="2.08"/>
<rect x="206.57" y="2049.83" width="90.21" height="375.07" fill="rgb(65,105,225)" fill-opacity="0.3" stroke="#000" stroke-opacity="0.3" stroke-width="2.08"/>
<rect x="296.77" y="2370.07" width="90.21" height="54.83" fill="rgb(65,105,225)" fill-opacity="0.3" stroke="#000" stroke-opacity="0.3" stroke-width="2.08"/>
<rect x="386.98" y="2292.46" width="90.21" height="132.44" fill="rgb(65,105,225)" fill-opacity="0.3" stroke="#000" stroke-opacity="0.3" stroke-width="2.08"/>
<rect x="477.19" y="2389.51" width="90.21" height="35.39" fill="rgb(65,105,225)" fill-opacity="0.3" stroke="#000" stroke-opacity="0.3" stroke-width="2.08"/>
<rect x="567.39" y="2398.71" width="90.21" height="26.19" fill="rgb(65,105,225)" fill-opacity="0.3" stroke="#000" stroke-opacity="0.3" stroke-width="2.08"/>
<rect x="657.6" y="2390.38" width="90.21" height="34.52" fill="rgb(65,105,225)" fill-opacity="0.3" stroke="#000" stroke-opacity="0.3" stroke-width="2.08"/>
<rect x="747.81" y="2412.01" width="90.21" height="12.89" fill="rgb(65,105,225)" fill-opacity="0.3" stroke="#000" stroke-opacity="0.3" stroke-width="2.08"/>
<rect x="838.02" y="2408.8" width="90.21" height="16.1" fill="rgb(65,105,225)" fill-opacity="0.3" stroke="#000" stroke-opacity="0.3" stroke-width="2.08"/>
<rect x="928.22" y="2417.28" width="90.21" height="7.62" fill="rgb(65,105,225)" fill-opacity="0.3" stroke="#000" stroke-opacity="0.3" stroke-width="2.08"/>
<rect x="1018.43" y="2417.28" width="90.21" height="7.62" fill="rgb(65,105,225)" fill-opacity="0.3" stroke="#000" stroke-opacity="0.3" stroke-width="2.08"/>
<rect x="1108.64" y="2417.86" width="90.21" height="7.04" fill="rgb(65,105,225)" fill-opacity="0.3" stroke="#000" stroke-opacity="0.3" stroke-width="2.08"/>
<rect x="1198.84" y="2421.95" width="90.21" height="2.95" fill="rgb(65,105,225)" fill-opacity="0.3" stroke="#000" stroke-opacity="0.3" stroke-width="2.08"/>
<rect x="1289.05" y="2417.86" width="90.21" height="7.04" fill="rgb(65,105,225)" fill-opacity="0.3" stroke="#000" stroke-opacity="0.3" stroke-width="2.08"/>
<rect x="1379.26" y="2417.86" width="90.21" height="7.04" fill="rgb(65,105,225)" fill-opacity="0.3" stroke="#000" stroke-opacity="0.3" stroke-width="2.08"/>
<rect x="1559.67" y="2419.62" width="90.21" height="5.28" fill="rgb(65,105,225)" fill-opacity="0.3" stroke="#000" stroke-opacity="0.3" stroke-width="2.08"/>
<rect x="1740.09" y="2422.54" width="90.21" height="2.36" fill="rgb(65,105,225)" fill-opacity="0.3" stroke="#000" stroke-opacity="0.3" stroke-width="2.08"/>
<rect x="1830.29" y="2376.35" width="90.21" height="48.55" fill="rgb(65,105,225)" fill-opacity="0.3" stroke="#000" stroke-opacity="0.3" stroke-width="2.08"/>
<path d="M118.3,1176.27 L118.35,1189.64 L118.4,1202.88 L118.45,1215.98 L118.5,1228.96 L118.56,1241.81 L118.61,1254.54 L118.67,1267.14 L118.73,1279.62 L118.79,1291.97 L118.86,1304.21 L118.92,1316.32 L118.99,1328.32 L119.06,1340.2 L119.14,1351.96 L119.21,1363.6 L119.29,1375.13 L119.37,1386.55 L119.45,1397.86 L119.54,1409.05 L119.63,1420.14 L119.72,1431.11 L119.81,1441.98 L119.91,1452.74 L120.01,1463.39 L120.12,1473.94 L120.23,1484.38 L120.34,1494.73 L120.45,1504.97 L120.57,1515.1 L120.69,1525.14 L120.82,1535.08 L120.95,1544.92 L121.09,1554.67 L121.23,1564.32 L121.37,1573.87 L121.52,1583.33 L121.67,1592.69 L121.83,1601.96 L122,1611.15 L122.17,1620.24 L122.34,1629.24 L122.53,1638.15 L122.71,1646.97 L122.91,1655.71 L123.11,1664.36 L123.31,1672.93 L123.53,1681.41 L123.75,1689.81 L123.98,1698.12 L124.21,1706.35 L124.46,1714.51 L124.71,1722.58 L124.97,1730.57 L125.23,1738.49 L125.51,1746.32 L125.8,1754.08 L126.09,1761.77 L126.4,1769.38 L126.72,1776.91 L127.04,1784.37 L127.38,1791.76 L127.73,1799.08 L128.09,1806.32 L128.46,1813.5 L128.84,1820.6 L129.24,1827.64 L129.65,1834.61 L130.07,1841.51 L130.51,1848.34 L130.96,1855.11 L131.43,1861.81 L131.91,1868.45 L132.41,1875.02 L132.92,1881.54 L133.45,1887.99 L134,1894.37 L134.57,1900.7 L135.16,1906.97 L135.76,1913.18 L136.39,1919.32 L137.03,1925.42 L137.7,1931.45 L138.39,1937.43 L139.1,1943.35 L139.84,1949.21 L140.6,1955.03 L141.39,1960.78 L142.2,1966.49 L143.04,1972.14 L143.9,1977.74 L144.8,1983.29 L145.72,1988.79 L146.68,1994.24 L147.67,1999.64 L148.69,2004.99 L149.74,2010.29 L150.83,2015.54 L151.95,2020.75 L153.11,2025.91 L154.31,2031.03 L155.55,2036.1 L156.83,2041.13 L158.16,2046.11 L159.52,2051.05 L160.93,2055.95 L162.39,2060.81 L163.9,2065.62 L165.46,2070.4 L167.06,2075.13 L168.73,2079.83 L170.44,2084.48 L172.22,2089.1 L174.05,2093.68 L175.94,2098.22 L177.9,2102.73 L179.92,2107.2 L182,2111.63 L184.16,2116.03 L186.39,2120.39 L188.69,2124.72 L191.07,2129.01 L193.52,2133.28 L196.06,2137.51 L198.68,2141.7 L201.39,2145.87 L204.19,2150 L207.08,2154.11 L210.06,2158.18 L213.15,2162.23 L216.33,2166.24 L219.63,2170.23 L223.03,2174.18 L226.54,2178.11 L230.17,2182.02 L233.92,2185.89 L237.8,2189.74 L241.8,2193.56 L245.93,2197.35 L250.21,2201.12 L254.62,2204.86 L259.18,2208.58 L263.89,2212.28 L268.75,2215.94 L273.78,2219.59 L278.98,2223.21 L284.34,2226.81 L289.88,2230.38 L295.61,2233.93 L301.53,2237.45 L307.64,2240.96 L313.95,2244.44 L320.48,2247.9 L327.22,2251.33 L334.18,2254.75 L341.37,2258.14 L348.8,2261.5 L356.48,2264.85 L364.41,2268.17 L372.6,2271.47 L381.07,2274.75 L389.81,2278.01 L398.84,2281.24 L408.18,2284.45 L417.82,2287.64 L427.78,2290.81 L438.07,2293.95 L448.7,2297.07 L459.68,2300.16 L471.03,2303.23 L482.75,2306.28 L494.86,2309.3 L507.37,2312.3 L520.3,2315.27 L533.65,2318.21 L547.45,2321.13 L561.7,2324.02 L576.42,2326.89 L591.63,2329.72 L607.34,2332.53 L623.58,2335.31 L640.35,2338.05 L657.67,2340.77 L675.57,2343.45 L694.07,2346.11 L713.17,2348.72 L732.91,2351.31 L753.29,2353.86 L774.36,2356.37 L796.12,2358.85 L818.6,2361.29 L841.83,2363.69 L865.82,2366.06 L890.61,2368.38 L916.22,2370.66 L942.68,2372.9 L970.01,2375.1 L998.24,2377.25 L1027.42,2379.36 L1057.55,2381.42 L1088.69,2383.44 L1120.85,2385.41 L1154.08,2387.33 L1188.41,2389.2 L1223.87,2391.02 L1260.51,2392.79 L1298.36,2394.51 L1337.47,2396.18 L1377.87,2397.8 L1419.6,2399.37 L1462.72,2400.88 L1507.26,2402.34 L1553.28,2403.74 L1600.82,2405.1 L1649.94,2406.4 L1700.68,2407.64 L1753.1,2408.83 L1807.25,2409.97 L1863.2,2411.06 L1921,2412.09" fill="none" stroke="#b22222" stroke-width="3.5" stroke-linejoin="round" clip-path="url(#ce)"/>
<path d="M118.3,-234.38 L118.35,-198.43 L118.4,-162.9 L118.45,-127.79 L118.5,-93.1 L118.56,-58.82 L118.61,-24.95 L118.67,8.52 L118.73,41.58 L118.79,74.25 L118.86,106.52 L118.92,138.41 L118.99,169.91 L119.06,201.04 L119.14,231.78 L119.21,262.16 L119.29,292.17 L119.37,321.81 L119.45,351.09 L119.54,380.02 L119.63,408.59 L119.72,436.82 L119.81,464.7 L119.91,492.24 L120.01,519.44 L120.12,546.31 L120.23,572.85 L120.34,599.06 L120.45,624.95 L120.57,650.52 L120.69,675.78 L120.82,700.72 L120.95,725.35 L121.09,749.68 L121.23,773.71 L121.37,797.44 L121.52,820.87 L121.67,844.01 L121.83,866.87 L122,889.43 L122.17,911.72 L122.34,933.73 L122.53,955.46 L122.71,976.92 L122.91,998.11 L123.11,1019.04 L123.31,1039.7 L123.53,1060.11 L123.75,1080.25 L123.98,1100.14 L124.21,1119.79 L124.46,1139.18 L124.71,1158.33 L124.97,1177.24 L125.23,1195.91 L125.51,1214.34 L125.8,1232.54 L126.09,1250.51 L126.4,1268.25 L126.72,1285.77 L127.04,1303.06 L127.38,1320.14 L127.73,1337 L128.09,1353.64 L128.46,1370.07 L128.84,1386.3 L129.24,1402.32 L129.65,1418.13 L130.07,1433.74 L130.51,1449.16 L130.96,1464.38 L131.43,1479.4 L131.91,1494.23 L132.41,1508.88 L132.92,1523.34 L133.45,1537.61 L134,1551.7 L134.57,1565.62 L135.16,1579.35 L135.76,1592.91 L136.39,1606.3 L137.03,1619.52 L137.7,1632.57 L138.39,1645.46 L139.1,1658.18 L139.84,1670.74 L140.6,1683.14 L141.39,1695.38 L142.2,1707.47 L143.04,1719.4 L143.9,1731.19 L144.8,1742.82 L145.72,1754.31 L146.68,1765.65 L147.67,1776.85 L148.69,1787.91 L149.74,1798.83 L150.83,1809.61 L151.95,1820.25 L153.11,1830.76 L154.31,1841.14 L155.55,1851.39 L156.83,1861.51 L158.16,1871.5 L159.52,1881.37 L160.93,1891.12 L162.39,1900.74 L163.9,1910.24 L165.46,1919.63 L167.06,1928.89 L168.73,1938.05 L170.44,1947.09 L172.22,1956.01 L174.05,1964.83 L175.94,1973.53 L177.9,1982.13 L179.92,1990.62 L182,1999.01 L184.16,2007.29 L186.39,2015.48 L188.69,2023.56 L191.07,2031.54 L193.52,2039.42 L196.06,2047.2 L198.68,2054.89 L201.39,2062.48 L204.19,2069.99 L207.08,2077.39 L210.06,2084.71 L213.15,2091.93 L216.33,2099.07 L219.63,2106.12 L223.03,2113.08 L226.54,2119.95 L230.17,2126.74 L233.92,2133.44 L237.8,2140.06 L241.8,2146.6 L245.93,2153.06 L250.21,2159.43 L254.62,2165.72 L259.18,2171.93 L263.89,2178.06 L268.75,2184.12 L273.78,2190.09 L278.98,2195.99 L284.34,2201.81 L289.88,2207.55 L295.61,2213.22 L301.53,2218.81 L307.64,2224.32 L313.95,2229.76 L320.48,2235.13 L327.22,2240.42 L334.18,2245.63 L341.37,2250.77 L348.8,2255.84 L356.48,2260.83 L364.41,2265.74 L372.6,2270.59 L381.07,2275.35 L389.81,2280.05 L398.84,2284.67 L408.18,2289.21 L417.82,2293.68 L427.78,2298.08 L438.07,2302.4 L448.7,2306.64 L459.68,2310.81 L471.03,2314.91 L482.75,2318.93 L494.86,2322.87 L507.37,2326.73 L520.3,2330.52 L533.65,2334.23 L547.45,2337.86 L561.7,2341.42 L576.42,2344.9 L591.63,2348.29 L607.34,2351.61 L623.58,2354.85 L640.35,2358.01 L657.67,2361.09 L675.57,2364.09 L694.07,2367.01 L713.17,2369.85 L732.91,2372.6 L753.29,2375.28 L774.36,2377.87 L796.12,2380.39 L818.6,2382.82 L841.83,2385.17 L865.82,2387.44 L890.61,2389.63 L916.22,2391.74 L942.68,2393.77 L970.01,2395.72 L998.24,2397.59 L1027.42,2399.38 L1057.55,2401.1 L1088.69,2402.74 L1120.85,2404.3 L1154.08,2405.79 L1188.41,2407.2 L1223.87,2408.55 L1260.51,2409.82 L1298.36,2411.02 L1337.47,2412.15 L1377.87,2413.22 L1419.6,2414.22 L1462.72,2415.17 L1507.26,2416.04 L1553.28,2416.87 L1600.82,2417.63 L1649.94,2418.34 L1700.68,2419 L1753.1,2419.6 L1807.25,2420.16 L1863.2,2420.67 L1921,2421.14" fill="none" stroke="#4169e1" stroke-width="3.5" stroke-linejoin="round" clip-path="url(#ce)"/>
<rect x="116.86" y="1693.1" width="1804.14" height="731.8" fill="none" stroke="#000" stroke-width="1.7"/>
<line x1="108.26" y1="2424.9" x2="116.86" y2="2424.9" stroke="#000" stroke-width="1.7" />
<text x="98.96" y="2433.2" font-size="23.65" text-anchor="end" font-weight="normal" >0%</text>
<line x1="108.26" y1="2278.54" x2="116.86" y2="2278.54" stroke="#000" stroke-width="1.7" />
<text x="98.96" y="2286.84" font-size="23.65" text-anchor="end" font-weight="normal" >10%</text>
<line x1="108.26" y1="2132.18" x2="116.86" y2="2132.18" stroke="#000" stroke-width="1.7" />
<text x="98.96" y="2140.48" font-size="23.65" text-anchor="end" font-weight="normal" >20%</text>
<line x1="108.26" y1="1985.82" x2="116.86" y2="1985.82" stroke="#000" stroke-width="1.7" />
<text x="98.96" y="1994.12" font-size="23.65" text-anchor="end" font-weight="normal" >30%</text>
<line x1="108.26" y1="1839.46" x2="116.86" y2="1839.46" stroke="#000" stroke-width="1.7" />
<text x="98.96" y="1847.76" font-size="23.65" text-anchor="end" font-weight="normal" >40%</text>
<line x1="108.26" y1="1693.1" x2="116.86" y2="1693.1" stroke="#000" stroke-width="1.7" />
<text x="98.96" y="1701.4" font-size="23.65" text-anchor="end" font-weight="normal" >50%</text>
<line x1="116.86" y1="2424.9" x2="116.86" y2="2433.5" stroke="#000" stroke-width="1.7" />
<text x="116.86" y="2457.6" font-size="23.65" text-anchor="middle" font-weight="normal" >0</text>
<line x1="297.27" y1="2424.9" x2="297.27" y2="2433.5" stroke="#000" stroke-width="1.7" />
<text x="297.27" y="2457.6" font-size="23.65" text-anchor="middle" font-weight="normal" >1,000</text>
<line x1="477.69" y1="2424.9" x2="477.69" y2="2433.5" stroke="#000" stroke-width="1.7" />
<text x="477.69" y="2457.6" font-size="23.65" text-anchor="middle" font-weight="normal" >2,000</text>
<line x1="658.1" y1="2424.9" x2="658.1" y2="2433.5" stroke="#000" stroke-width="1.7" />
<text x="658.1" y="2457.6" font-size="23.65" text-anchor="middle" font-weight="normal" >3,000</text>
<line x1="838.52" y1="2424.9" x2="838.52" y2="2433.5" stroke="#000" stroke-width="1.7" />
<text x="838.52" y="2457.6" font-size="23.65" text-anchor="middle" font-weight="normal" >4,000</text>
<line x1="1018.93" y1="2424.9" x2="1018.93" y2="2433.5" stroke="#000" stroke-width="1.7" />
<text x="1018.93" y="2457.6" font-size="23.65" text-anchor="middle" font-weight="normal" >5,000</text>
<line x1="1199.34" y1="2424.9" x2="1199.34" y2="2433.5" stroke="#000" stroke-width="1.7" />
<text x="1199.34" y="2457.6" font-size="23.65" text-anchor="middle" font-weight="normal" >6,000</text>
<line x1="1379.76" y1="2424.9" x2="1379.76" y2="2433.5" stroke="#000" stroke-width="1.7" />
<text x="1379.76" y="2457.6" font-size="23.65" text-anchor="middle" font-weight="normal" >7,000</text>
<line x1="1560.17" y1="2424.9" x2="1560.17" y2="2433.5" stroke="#000" stroke-width="1.7" />
<text x="1560.17" y="2457.6" font-size="23.65" text-anchor="middle" font-weight="normal" >8,000</text>
<line x1="1740.59" y1="2424.9" x2="1740.59" y2="2433.5" stroke="#000" stroke-width="1.7" />
<text x="1740.59" y="2457.6" font-size="23.65" text-anchor="middle" font-weight="normal" >9,000</text>
<line x1="1921" y1="2424.9" x2="1921" y2="2433.5" stroke="#000" stroke-width="1.7" />
<text x="1921" y="2457.6" font-size="23.65" text-anchor="middle" font-weight="normal" >10,000+</text>
<text x="1018.93" y="2490.3" font-size="23.62" text-anchor="middle" font-weight="bold" >Word Frequency Ranking</text>
<text transform="translate(32.9,2059) rotate(-90)" font-size="23.57" text-anchor="middle" font-weight="bold">Percentage of Total Words</text>
<rect x="1501.4" y="1705.3" width="407.6" height="75.2" rx="3.8" ry="3.8" fill="#fff" fill-opacity="0.8" stroke="#ccc" stroke-width="2.08"/>
<rect x="1510.1" y="1714.7" width="48.6" height="17.2" fill="rgb(178,34,34)" fill-opacity="0.3" stroke="#000" stroke-opacity="0.3" stroke-width="2.08"/>
<rect x="1510.1" y="1749.2" width="48.6" height="17.2" fill="rgb(65,105,225)" fill-opacity="0.3" stroke="#000" stroke-opacity="0.3" stroke-width="2.08"/>
<text x="1576.65" y="1731.5" font-size="23.57" text-anchor="start" font-weight="normal" >Before GPT-4 Simplification</text>
<text x="1576.65" y="1765.9" font-size="23.57" text-anchor="start" font-weight="normal" >After GPT-4 Simplification</text>
<rect x="20.3" y="2444.3" width="34.5" height="44.3" fill="#fff" stroke="#000" stroke-width="2.08"/>
<text x="26.55" y="2475.7" font-size="33" text-anchor="start" font-weight="bold" >E</text>
</g>
</svg></body></html>
